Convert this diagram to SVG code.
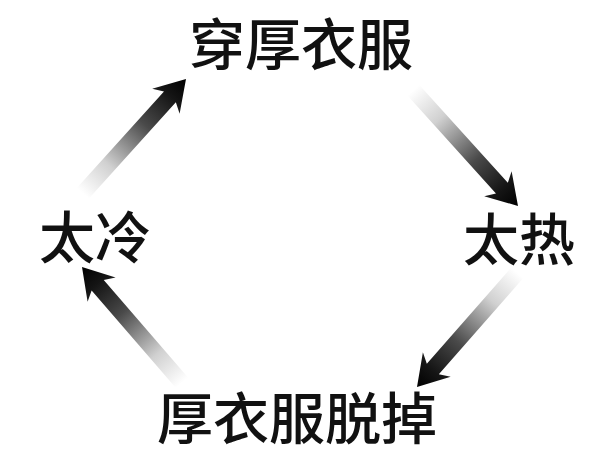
<svg xmlns="http://www.w3.org/2000/svg" width="600" height="470" viewBox="0 0 600 470">
<style>
.lbl{font-family:"Noto Sans CJK SC","Noto Sans CJK TC",sans-serif;font-size:56px;font-weight:500;fill:#111;text-anchor:middle}
.arr{fill:url(#fade)}
</style>
<defs>
<linearGradient id="fade" x1="0" y1="0" x2="1" y2="0">
<stop offset="0" stop-color="#ffffff"/>
<stop offset="0.25" stop-color="#d0d0d0"/>
<stop offset="0.6" stop-color="#4a4a4a"/>
<stop offset="0.85" stop-color="#151515"/>
<stop offset="1" stop-color="#000000"/>
</linearGradient>
</defs>
<rect width="600" height="470" fill="#ffffff"/>
<g id="connectors">
<path class="arr" transform="translate(518,206) rotate(47.9)" d="M-156,-8 L-24,-8 L-30,-18.5 L0,0 L-30,18.5 L-24,8 L-156,8 Z"/>
<path class="arr" transform="translate(186,79) rotate(-47.9)" d="M-154,-8 L-24,-8 L-30,-18.5 L0,0 L-30,18.5 L-24,8 L-154,8 Z"/>
<path class="arr" transform="translate(417,387) rotate(131.3)" d="M-152,-8 L-24,-8 L-30,-18.5 L0,0 L-30,18.5 L-24,8 L-152,8 Z"/>
<path class="arr" transform="translate(82,267) rotate(229.2)" d="M-153,-8 L-24,-8 L-30,-18.5 L0,0 L-30,18.5 L-24,8 L-153,8 Z"/>
</g>
<g id="node-top"><text class="lbl" x="301" y="65">穿厚衣服</text></g>
<g id="node-right"><text class="lbl" x="519" y="260">太热</text></g>
<g id="node-bottom"><text class="lbl" x="297" y="439">厚衣服脱掉</text></g>
<g id="node-left"><text class="lbl" x="95" y="258">太冷</text></g>
</svg>
